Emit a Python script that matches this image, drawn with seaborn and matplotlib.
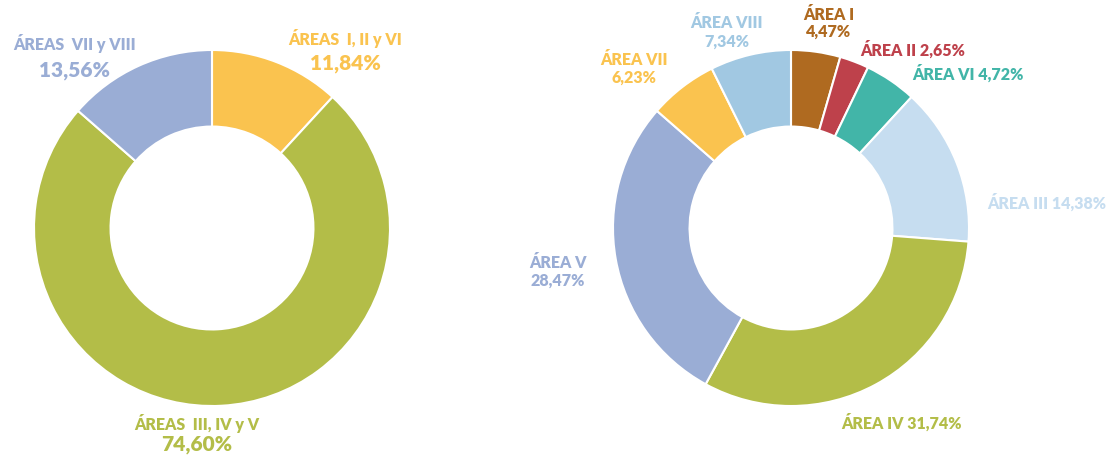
import matplotlib
matplotlib.use("Agg")
import matplotlib.pyplot as plt
import seaborn as sns

# left donut: grouped areas
group_labels = ["ÁREAS  I, II y VI", "ÁREAS  III, IV y V", "ÁREAS  VII y VIII"]
group_values = [11.84, 74.60, 13.56]
group_colors = ["#FAC34F", "#B3BD48", "#9AADD5"]

# right donut: single areas, clockwise from the top
area_labels = ["ÁREA I", "ÁREA II", "ÁREA VI", "ÁREA III", "ÁREA IV", "ÁREA V", "ÁREA VII", "ÁREA VIII"]
area_values = [4.47, 2.65, 4.72, 14.38, 31.74, 28.47, 6.23, 7.34]
area_colors = ["#AF6A20", "#BE414B", "#42B5A8", "#C6DDF0", "#B3BD48", "#9AADD5", "#FAC34F", "#A1C8E2"]

sns.set_style("white")
plt.rcParams["font.family"] = ["Lato", "DejaVu Sans"]

def pct(v):
    return f"{v:.2f}".replace(".", ",") + "%"

fig = plt.figure(figsize=(11.17, 4.56), dpi=100)
W, H = 1117, 456
R = 178
ax1 = fig.add_axes([(212 - R) / W, (H - 229 - R) / H, 2 * R / W, 2 * R / H])
ax2 = fig.add_axes([(791 - R) / W, (H - 229 - R) / H, 2 * R / W, 2 * R / H])

for ax, vals, cols in [(ax1, group_values, group_colors), (ax2, area_values, area_colors)]:
    ax.pie(vals, colors=cols, startangle=90, counterclock=False, radius=1,
           wedgeprops=dict(width=0.43, edgecolor="white", linewidth=1.5))
    ax.set_xlim(-1, 1)
    ax.set_ylim(-1, 1)
    ax.axis("off")

wt = "heavy"

# left labels (two lines, centred)
left_pos = [(0.75, 1.07, 0.93), (-0.085, -1.09, -1.21), (-0.77, 1.04, 0.89)]
for lab, v, c, (x, y1, y2) in zip(group_labels, group_values, group_colors, left_pos):
    ax1.text(x, y1, lab, color=c, fontsize=11.5, fontweight=wt, ha="center", va="center", clip_on=False)
    ax1.text(x, y2, pct(v), color=c, fontsize=15, fontweight=wt, ha="center", va="center", clip_on=False)

# right labels
two_line = {"ÁREA I": (0.21, 1.20, 1.11), "ÁREA V": (-1.31, -0.19, -0.29),
            "ÁREA VII": (-0.88, 0.95, 0.85), "ÁREA VIII": (-0.36, 1.16, 1.05)}
one_line = {"ÁREA II": (0.39, 1.006, "left"), "ÁREA VI": (0.68, 0.876, "left"),
            "ÁREA III": (1.10, 0.15, "left"), "ÁREA IV": (0.62, -1.09, "center")}
for lab, v, c in zip(area_labels, area_values, area_colors):
    if lab in two_line:
        x, y1, y2 = two_line[lab]
        ax2.text(x, y1, lab, color=c, fontsize=11.5, fontweight=wt, ha="center", va="center", clip_on=False)
        ax2.text(x, y2, pct(v), color=c, fontsize=11.5, fontweight=wt, ha="center", va="center", clip_on=False)
    else:
        x, y, ha = one_line[lab]
        ax2.text(x, y, f"{lab} {pct(v)}", color=c, fontsize=11.5, fontweight=wt, ha=ha, va="center", clip_on=False)

fig.savefig("out.png", dpi=100)
